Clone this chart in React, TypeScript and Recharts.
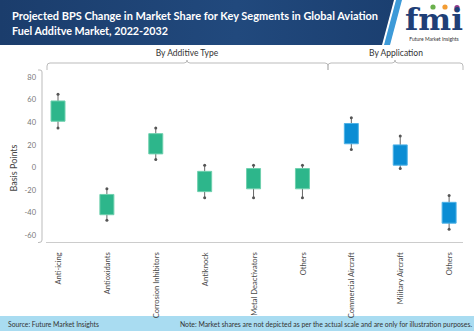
import React from 'react';
import { ComposedChart, Bar, XAxis, YAxis, Rectangle } from 'recharts';

const categories = [
  'Anti-icing',
  'Antioxidants',
  'Corrosion Inhibitors',
  'Antiknock',
  'Metal Deactivators',
  'Others',
  'Commercial Aircraft',
  'Military Aircraft',
  'Others',
];
const segments = ['Additive', 'Additive', 'Additive', 'Additive', 'Additive', 'Additive', 'Application', 'Application', 'Application'];
const whiskerLow = [35, -47, 7, -27, -27, -27, 16, -1, -55];
const boxLow = [41, -42, 12, -21.5, -19, -19, 21, 2, -49.5];
const boxHigh = [59, -24, 30, -3.5, -1, -1, 39, 20, -31];
const whiskerHigh = [65, -19, 35, 2, 2, 2, 44, 28, -25];
const yTicks = [-60, -40, -20, 0, 20, 40, 60, 80];

const titleLine1 = 'Projected BPS Change in Market Share for Key Segments in Global Aviation';
const titleLine2 = 'Fuel Additve Market, 2022-2032';
const groupLabels = ['By Additive Type', 'By Application'];
const sourceText = 'Source: Future Market Insights';
const noteText = 'Note: Market shares are not depicted as per the actual scale and are only for illustration purposes.';

const segmentColor: Record<string, string> = { Additive: '#2db68b', Application: '#0b8dd4' };
const segmentStroke: Record<string, string> = { Additive: '#6fd0ae', Application: '#4fb2e6' };

const data = categories.map((c, i) => ({
  category: c,
  segment: segments[i],
  whisker: [whiskerLow[i], whiskerHigh[i]],
  box: [boxLow[i], boxHigh[i]],
}));

const FONT = 'Lato, "Open Sans", sans-serif';

const WhiskerShape = (props: any) => {
  const { x, y, width, height } = props;
  const cx = x + width / 2;
  const top = Math.min(y, y + height);
  const bottom = Math.max(y, y + height);
  return (
    <g>
      <line x1={cx} x2={cx} y1={top} y2={bottom} stroke="#666" strokeWidth={1} />
      <circle cx={cx} cy={top} r={1.5} fill="#555" />
      <circle cx={cx} cy={bottom} r={1.5} fill="#555" />
    </g>
  );
};

const BoxShape = (props: any) => {
  const { x, y, width, height, payload } = props;
  const top = Math.min(y, y + height);
  const h = Math.abs(height);
  return (
    <Rectangle
      x={x}
      y={top}
      width={width}
      height={h}
      fill={segmentColor[payload.segment]}
      stroke={segmentStroke[payload.segment]}
      strokeWidth={1}
    />
  );
};

const XTick = (props: any) => {
  const { x, y, payload } = props;
  return (
    <text
      transform={`translate(${x},${y}) rotate(-90)`}
      textAnchor="end"
      dy="0.35em"
      fontSize={7.6}
      fill="#4a4a4a"
      fontFamily={FONT}
    >
      {payload.value}
    </text>
  );
};

const YTick = (props: any) => {
  const { x, y, payload } = props;
  return (
    <text x={x} y={y} dy="0.35em" textAnchor="end" fontSize={7.5} fill="#777" fontFamily={FONT}>
      {payload.value}
    </text>
  );
};

const Background = () => (
  <svg width={474} height={331} style={{ position: 'absolute', left: 0, top: 0 }}>
    <defs>
      <linearGradient id="hdr" x1="0" y1="0" x2="1" y2="0">
        <stop offset="0" stopColor="#1b3d6c" />
        <stop offset="0.6" stopColor="#21497d" />
        <stop offset="1" stopColor="#1b3f70" />
      </linearGradient>
    </defs>
    <rect x={0} y={0} width={474} height={331} fill="#fff" />
    <polygon points="0,0 394,0 382,45 0,45" fill="url(#hdr)" />
    <polygon points="396,0 402,0 390,45 384,45" fill="#3d9ad8" />
    <text x={12} y={20} fill="#fff" fontWeight="bold" fontSize={12} fontFamily={FONT} textLength={366} lengthAdjust="spacingAndGlyphs">
      {titleLine1}
    </text>
    <text x={12} y={35} fill="#fff" fontWeight="bold" fontSize={12} fontFamily={FONT} textLength={156} lengthAdjust="spacingAndGlyphs">
      {titleLine2}
    </text>
    {/* logo */}
    <circle cx={433} cy={7} r={2.6} fill="#6ab04c" />
    <circle cx={445} cy={7} r={2.6} fill="#f39c33" />
    <circle cx={457} cy={7.5} r={2.6} fill="#8e3b8a" />
    <text x={434} y={30} textAnchor="middle" fill="#1f3f77" fontWeight="bold" fontSize={29} fontFamily='"DejaVu Serif", serif' textLength={58} lengthAdjust="spacingAndGlyphs">
      fmi
    </text>
    <text x={434} y={41} textAnchor="middle" fill="#333" fontSize={5} fontFamily={FONT}>
      Future Market Insights
    </text>
    {/* group labels */}
    <text x={187} y={56} textAnchor="middle" fill="#333" fontSize={8.5} fontFamily={FONT}>
      {groupLabels[0]}
    </text>
    <text x={396} y={56} textAnchor="middle" fill="#333" fontSize={8.5} fontFamily={FONT}>
      {groupLabels[1]}
    </text>
    {/* brackets */}
    <path d="M47,70 L47,66 Q47,63 50,63 L184,63 Q187,63 187,60 Q187,63 190,63 L325,63 Q328,63 328,66 L328,70" fill="none" stroke="#bbb" strokeWidth={1} />
    <path d="M328,70 L328,66 Q328,63 331,63 L392,63 Q395,63 395,60 Q395,63 398,63 L460,63 Q463,63 463,66 L463,70" fill="none" stroke="#bbb" strokeWidth={1} />
    <path d="M38,70 L40,70 Q42,70 42,72 L42,240 Q42,242.5 39,242.5 L38,242.5" fill="none" stroke="#bbb" strokeWidth={1} />
    <line x1={46} x2={463} y1={242.5} y2={242.5} stroke="#ccc" strokeWidth={1} />
    {/* y label */}
    <text transform="translate(17,168) rotate(-90)" textAnchor="middle" fill="#444" fontSize={9} fontFamily={FONT}>
      Basis Points
    </text>
    {/* footer */}
    <rect x={0} y={316} width={474} height={15} fill="#a9dcf1" />
    <text x={8} y={326.5} fill="#333" fontSize={7} fontFamily={FONT} textLength={91} lengthAdjust="spacingAndGlyphs">
      {sourceText}
    </text>
    <text x={180} y={326.5} fill="#333" fontSize={7} fontFamily={FONT} textLength={292} lengthAdjust="spacingAndGlyphs">
      {noteText}
    </text>
  </svg>
);

export default function App() {
  return (
    <div style={{ position: 'absolute', left: 0, top: 0, width: 474, height: 331, overflow: 'hidden' }}>
      <Background />
      <div style={{ position: 'absolute', left: 0, top: 0 }}>
        <ComposedChart
          width={474}
          height={331}
          data={data}
          margin={{ top: 71.7, right: 0, bottom: 0, left: 0 }}
        >
          <XAxis
            xAxisId="cat"
            dataKey="category"
            height={88.7}
            axisLine={false}
            tickLine={false}
            interval={0}
            tick={<XTick />}
            tickMargin={4}
          />
          <XAxis xAxisId="w" dataKey="category" hide />
          <YAxis
            type="number"
            domain={[-66.5, 85]}
            ticks={yTicks}
            interval={0}
            width={34}
            axisLine={false}
            tickLine={false}
            tick={<YTick />}
            tickMargin={-8}
            allowDataOverflow
          />
          <Bar xAxisId="w" dataKey="whisker" barSize={14} shape={<WhiskerShape />} isAnimationActive={false} />
          <Bar xAxisId="cat" dataKey="box" barSize={14} shape={<BoxShape />} isAnimationActive={false} />
        </ComposedChart>
      </div>
    </div>
  );
}
